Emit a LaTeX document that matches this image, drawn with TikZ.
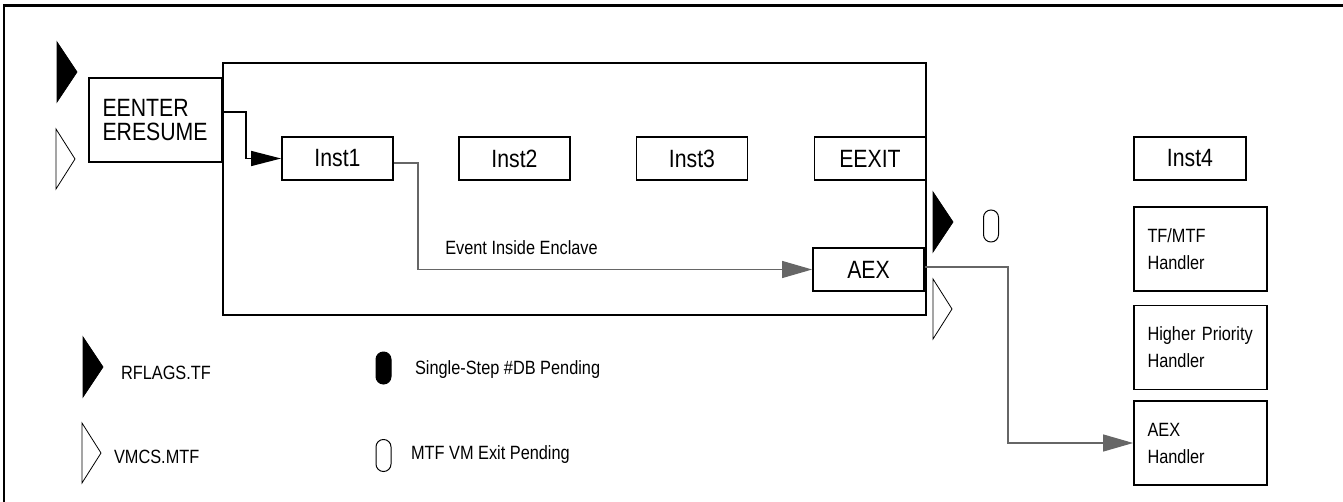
\documentclass[tikz,border=0pt]{standalone}
\usepackage{fontspec}
\setmainfont{Liberation Sans}
\newfontfamily\boxfont[FakeStretch=0.85]{Liberation Sans}
\usepackage{xcolor}
\usepackage{tikz}
\usetikzlibrary{arrows.meta}
\usetikzlibrary{calc}

\definecolor{flowgray}{HTML}{666666}

\tikzset{
  bigtext/.style={font=\boxfont\fontsize{12.5}{12.2}\selectfont},
  smalltext/.style={font=\boxfont\fontsize{9.6}{13.5}\selectfont},
  instbox/.style={draw, line width=0.9pt, bigtext, minimum width=55.5pt, minimum height=21.5pt, inner sep=0pt},
  handlerbox/.style={draw, line width=0.9pt, smalltext, align=left, text width=53pt, inner xsep=6.75pt, minimum height=42pt},
  pill/.style={draw, line width=0.5pt, rounded corners=3.7pt, minimum width=7.5pt, minimum height=16pt, inner sep=0pt},
  blackarrow/.style={line width=0.7pt, -{Triangle[length=15pt,width=7.5pt]}},
  grayarrow/.style={flowgray, line width=0.6pt, -{Triangle[length=15pt,width=8.5pt]}},
  tfflag/.pic={\filldraw[line width=0.4pt, fill=black] (0,0) -- (0,60) -- (20,30) -- cycle;},
  mtfflag/.pic={\draw[line width=0.4pt, fill=white] (0,0) -- (0,60) -- (19,30) -- cycle;}
}

\begin{document}
\begin{tikzpicture}[x=0.5pt, y=-0.5pt]
        \useasboundingbox (0,0) rectangle (1343,502);
        % frame (top and left side only)
        \draw[line width=1.2pt] (4,502) -- (4,5.5) -- (1343,5.5);

        % enclave
        \node[draw, line width=0.9pt, minimum width=351.5pt, minimum height=126pt, inner sep=0pt] (enclave) at (574.5,189) {};
        \node[handlerbox, bigtext, minimum height=42pt] (eenter) at (155.5,120) {EENTER\\ERESUME};

        \node[instbox] (inst1) at (337.5,158.5) {Inst1};
        \node[instbox] (inst2) at (514.5,158.5) {Inst2};
        \node[instbox] (inst3) at (692,158.5) {Inst3};
        \node[instbox] (eexit) at (870,158.5) {EEXIT};
        \node[instbox] (aex) at (868.5,269.5) {AEX};

        % right column
        \node[instbox, minimum width=56pt] (inst4) at (1190,158.5) {Inst4};
        \node[handlerbox] (tfmtf) at (1200.5,249) {TF/MTF\\Handler};
        \node[handlerbox] (higher) at (1200.5,347.5) {Higher Priority\\Handler};
        \node[handlerbox] (aexh) at (1200.5,443) {AEX\\Handler};

        % flags
        \pic at (57,42) {tfflag};
        \pic at (56,129) {mtfflag};
        \pic at (933,192) {tfflag};
        \pic at (933,279) {mtfflag};
        \node[pill] (mtfpend) at (991,226) {};

        % flow
        \draw[blackarrow] ([yshift=4pt]eenter.east) -- ++(23,0) |- (inst1.west);
        \draw[grayarrow] ([yshift=-2.25pt]inst1.east) -- ++(24,0) |- (aex.west);
        \node[smalltext] (evlabel) at (521.5,248) {Event Inside Enclave};
        \coordinate (drop) at (1008,267);
        \draw[grayarrow] (aex.east |- drop) -- (drop) |- (aexh.west);

        % legend
        \pic at (83,337) {tfflag};
        \node[smalltext, anchor=west] (tflabel) at (114,373) {RFLAGS.TF};
        \pic at (82,423) {mtfflag};
        \node[smalltext, anchor=west] (mtflabel) at (107,457) {VMCS.MTF};
        \node[pill, fill=black] (sspill) at (383.5,368) {};
        \node[smalltext, anchor=west] (sslabel) at (408,370) {Single-Step \#DB Pending};
        \node[pill] (vmpill) at (383.5,455.5) {};
        \node[smalltext, anchor=west] (vmlabel) at (404,455) {MTF VM Exit Pending};
\end{tikzpicture}
\end{document}
